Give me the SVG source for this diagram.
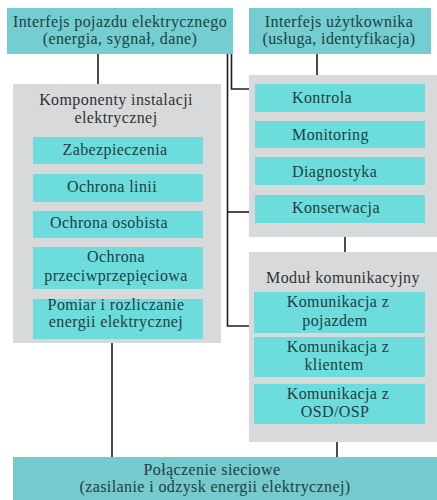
<svg xmlns="http://www.w3.org/2000/svg" width="437" height="500" viewBox="0 0 437 500">
  <style>
    .outer { fill: #74cdd0; }
    .inner { fill: #6ddcdc; }
    .panel { fill: #d7d9da; }
    .base  { fill: #76c9cc; }
    text { font-family: "Liberation Serif", "Times New Roman", serif; font-size: 16px; letter-spacing: 0.4px; }
    .t  { fill: #1c4142; text-anchor: middle; }
    .tl { fill: #1c4142; text-anchor: start; }
    .h  { fill: #303233; text-anchor: middle; }
    .wire { stroke: #1f1f1f; stroke-width: 1.6; fill: none; }
  </style>

  <!-- background -->
  <rect width="437" height="500" fill="#ffffff"/>

  <!-- connectors -->
  <g id="connectors">
    <line class="wire" x1="98" y1="54" x2="98" y2="84"/>
    <line class="wire" x1="317" y1="54" x2="317" y2="75"/>
    <polyline class="wire" points="227.5,54 227.5,326 249,326"/>
    <line class="wire" x1="227.5" y1="212" x2="249" y2="212"/>
    <polyline class="wire" points="231.5,54 231.5,89 249,89"/>
    <line class="wire" x1="345" y1="237" x2="345" y2="252"/>
    <line class="wire" x1="112" y1="343" x2="112" y2="457"/>
    <line class="wire" x1="337" y1="442" x2="337" y2="457"/>
  </g>

  <!-- vehicle interface -->
  <g id="vehicle-interface">
    <rect class="outer" x="7" y="8" width="226" height="46"/>
    <text class="t" x="120" y="27">Interfejs pojazdu elektrycznego</text>
    <text class="t" x="120" y="44">(energia, sygnał, dane)</text>
  </g>

  <!-- user interface -->
  <g id="user-interface">
    <rect class="outer" x="249" y="8" width="182" height="46"/>
    <text class="t" x="339" y="27">Interfejs użytkownika</text>
    <text class="t" x="339" y="44">(usługa, identyfikacja)</text>
  </g>

  <!-- electrical installation components -->
  <g id="installation-components">
    <rect class="panel" x="13" y="84" width="208" height="259"/>
    <text class="h" x="116" y="105">Komponenty instalacji</text>
    <text class="h" x="116" y="123">elektrycznej</text>
    <g id="protection">
      <rect class="inner" x="33" y="137" width="170" height="27"/>
      <text class="t" x="115" y="155">Zabezpieczenia</text>
    </g>
    <g id="line-protection">
      <rect class="inner" x="33" y="174" width="170" height="28"/>
      <text class="t" x="112" y="192">Ochrona linii</text>
    </g>
    <g id="personal-protection">
      <rect class="inner" x="33" y="211" width="170" height="27"/>
      <text class="t" x="109" y="228">Ochrona osobista</text>
    </g>
    <g id="surge-protection">
      <rect class="inner" x="33" y="247" width="170" height="42"/>
      <text class="t" x="116" y="262">Ochrona</text>
      <text class="t" x="116" y="281">przeciwprzepięciowa</text>
    </g>
    <g id="metering">
      <rect class="inner" x="33" y="299" width="170" height="40"/>
      <text class="t" x="116" y="310">Pomiar i rozliczanie</text>
      <text class="t" x="116" y="327">energii elektrycznej</text>
    </g>
  </g>

  <!-- control and supervision -->
  <g id="control-panel">
    <rect class="panel" x="249" y="75" width="188" height="162"/>
    <g id="control">
      <rect class="inner" x="255" y="84" width="170" height="28"/>
      <text class="tl" x="292" y="103">Kontrola</text>
    </g>
    <g id="monitoring">
      <rect class="inner" x="255" y="121" width="170" height="27"/>
      <text class="tl" x="292" y="140">Monitoring</text>
    </g>
    <g id="diagnostics">
      <rect class="inner" x="255" y="157" width="170" height="28"/>
      <text class="tl" x="292" y="177">Diagnostyka</text>
    </g>
    <g id="maintenance">
      <rect class="inner" x="255" y="195" width="170" height="28"/>
      <text class="tl" x="292" y="213">Konserwacja</text>
    </g>
  </g>

  <!-- communication module -->
  <g id="communication-module">
    <rect class="panel" x="249" y="252" width="188" height="190"/>
    <text class="h" x="343" y="283">Moduł komunikacyjny</text>
    <g id="comm-vehicle">
      <rect class="inner" x="254" y="292" width="171" height="41"/>
      <text class="t" x="338" y="307">Komunikacja z</text>
      <text class="t" x="335" y="326">pojazdem</text>
    </g>
    <g id="comm-client">
      <rect class="inner" x="254" y="337" width="171" height="40"/>
      <text class="t" x="338" y="352">Komunikacja z</text>
      <text class="t" x="334" y="370">klientem</text>
    </g>
    <g id="comm-operator">
      <rect class="inner" x="254" y="384" width="171" height="40"/>
      <text class="t" x="338" y="399">Komunikacja z</text>
      <text class="t" x="335" y="417">OSD/OSP</text>
    </g>
  </g>

  <!-- grid connection -->
  <g id="grid-connection">
    <rect class="base" x="13" y="457" width="424" height="43"/>
    <text class="t" x="212" y="475">Połączenie sieciowe</text>
    <text class="t" x="215" y="492">(zasilanie i odzysk energii elektrycznej)</text>
  </g>
</svg>
